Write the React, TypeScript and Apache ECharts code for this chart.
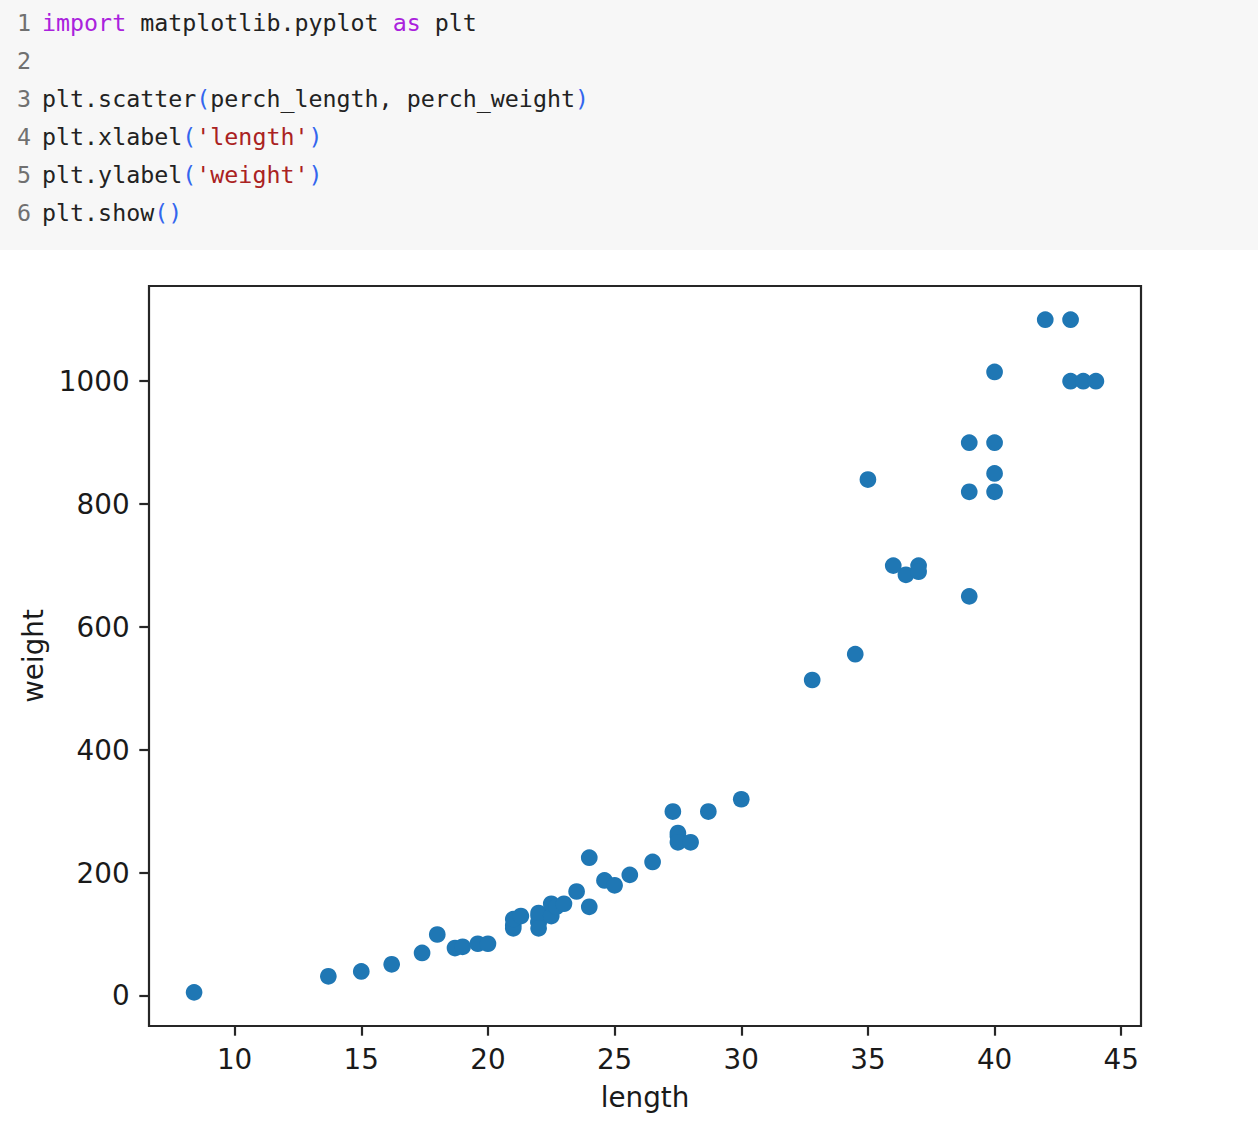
import React, { useEffect, useRef } from "react";
import * as echarts from "echarts";

const perchLength = [8.4, 13.7, 15.0, 16.2, 17.4, 18.0, 18.7, 19.0, 19.6, 20.0, 21.0, 21.0, 21.0, 21.3, 22.0, 22.0, 22.0, 22.0, 22.0, 22.5, 22.5, 22.7, 23.0, 23.5, 24.0, 24.0, 24.6, 25.0, 25.6, 26.5, 27.3, 27.5, 27.5, 27.5, 28.0, 28.7, 30.0, 32.8, 34.5, 35.0, 36.5, 36.0, 37.0, 37.0, 39.0, 39.0, 39.0, 40.0, 40.0, 40.0, 40.0, 42.0, 43.0, 43.0, 43.5, 44.0];
const perchWeight = [5.9, 32.0, 40.0, 51.5, 70.0, 100.0, 78.0, 80.0, 85.0, 85.0, 110.0, 115.0, 125.0, 130.0, 120.0, 120.0, 130.0, 135.0, 110.0, 130.0, 150.0, 145.0, 150.0, 170.0, 225.0, 145.0, 188.0, 180.0, 197.0, 218.0, 300.0, 260.0, 265.0, 250.0, 250.0, 300.0, 320.0, 514.0, 556.0, 840.0, 685.0, 700.0, 700.0, 690.0, 900.0, 650.0, 820.0, 850.0, 900.0, 1015.0, 820.0, 1100.0, 1000.0, 1100.0, 1000.0, 1000.0];

const xTicks = [10, 15, 20, 25, 30, 35, 40, 45];
const yTicks = [0, 200, 400, 600, 800, 1000];

const codeLines = [
  "{k|import} matplotlib.pyplot {k|as} plt",
  "",
  "plt.scatter{p|(}perch_length, perch_weight{p|)}",
  "plt.xlabel{p|(}{s|'length'}{p|)}",
  "plt.ylabel{p|(}{s|'weight'}{p|)}",
  "plt.show{p|()}",
];

const MONO = "'DejaVu Sans Mono', monospace";
const SANS = "'DejaVu Sans', sans-serif";

export default function App() {
  const ref = useRef<HTMLDivElement>(null);
  useEffect(() => {
    document.body.style.margin = "0";
    if (!ref.current) return;
    const chart = echarts.init(ref.current, null, { renderer: "svg" });
    const data = perchLength.map((x, i) => [x, perchWeight[i]]);
    const codeFont = 23.3;
    const graphics: any[] = [
      {
        type: "rect",
        shape: { x: 0, y: 0, width: 1258, height: 250 },
        style: { fill: "#f7f7f7" },
        silent: true,
      },
    ];
    codeLines.forEach((line, i) => {
      graphics.push({
        type: "text",
        x: 17,
        y: 22 + 38 * i,
        style: {
          text: String(i + 1),
          fill: "#707070",
          font: `${codeFont}px ${MONO}`,
          textVerticalAlign: "middle",
        },
        silent: true,
      });
      if (line) {
        graphics.push({
          type: "text",
          x: 42,
          y: 22 + 38 * i,
          style: {
            text: line,
            fill: "#222222",
            fontFamily: MONO,
            fontSize: codeFont,
            textVerticalAlign: "middle",
            rich: {
              k: { fill: "#aa22dd", fontFamily: MONO, fontSize: codeFont },
              p: { fill: "#3366ee", fontFamily: MONO, fontSize: codeFont },
              s: { fill: "#aa2222", fontFamily: MONO, fontSize: codeFont },
            },
          },
          silent: true,
        });
      }
    });

    const tickStyle = {
      show: true,
      inside: false,
      length: 9.7,
      lineStyle: { color: "#262626", width: 2.2 },
    };
    const labelStyle = {
      margin: 19.4,
      fontFamily: SANS,
      fontSize: 27.8,
      color: "#1a1a1a",
      formatter: (v: number) => String(v),
    };
    const nameStyle = { fontFamily: SANS, fontSize: 27.8, color: "#1a1a1a" };

    chart.setOption({
      animation: false,
      backgroundColor: "#ffffff",
      grid: {
        left: 149,
        top: 286,
        width: 992,
        height: 740,
        show: true,
        borderColor: "#262626",
        borderWidth: 2.2,
        backgroundColor: "transparent",
        containLabel: false,
      },
      xAxis: {
        type: "value",
        min: 6.62,
        max: 45.78,
        name: "length",
        nameLocation: "middle",
        nameGap: 57,
        nameTextStyle: nameStyle,
        axisLine: { show: false, onZero: false },
        splitLine: { show: false },
        axisTick: { ...tickStyle, customValues: xTicks },
        axisLabel: { ...labelStyle, customValues: xTicks },
      },
      yAxis: {
        type: "value",
        min: -48.8,
        max: 1154.8,
        name: "weight",
        nameLocation: "middle",
        nameGap: 94,
        nameTextStyle: nameStyle,
        axisLine: { show: false, onZero: false },
        splitLine: { show: false },
        axisTick: { ...tickStyle, customValues: yTicks },
        axisLabel: { ...labelStyle, customValues: yTicks },
      },
      series: [
        {
          type: "scatter",
          data,
          symbol: "circle",
          symbolSize: 16.7,
          itemStyle: { color: "#1f77b4", opacity: 1 },
        },
      ],
      graphic: graphics,
    });
    return () => chart.dispose();
  }, []);
  return <div ref={ref} style={{ width: 1258, height: 1138 }} />;
}
